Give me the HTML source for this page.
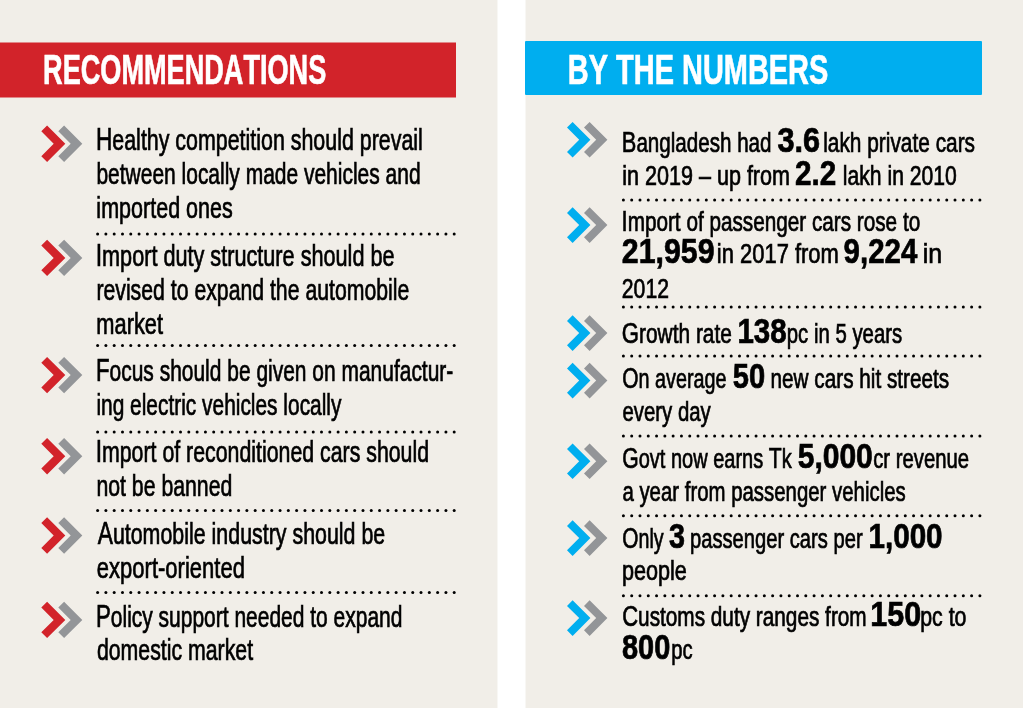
<!DOCTYPE html>
<html><head><meta charset="utf-8"><style>
html,body{margin:0;padding:0;background:#f1eee8;overflow:hidden;width:1023px;height:708px;}
svg{display:block;will-change:transform;}
text{font-family:"Liberation Sans",sans-serif;font-kerning:none;stroke:#000;stroke-width:0.7px;}
text[fill="#fff"]{stroke:#fff;}
</style></head><body>
<svg width="1023" height="708" viewBox="0 0 1023 708">
<rect x="0" y="0" width="1023" height="708" fill="#f1eee8"/>
<rect x="497.5" y="0" width="28" height="708" fill="#fff"/>
<rect x="0" y="42.5" width="456" height="55" fill="#d2232a"/>
<rect x="525" y="41" width="457" height="54" rx="1" fill="#00aeef"/>
<text x="43.09" y="83.60" font-size="43.00" textLength="283.17" lengthAdjust="spacingAndGlyphs" font-weight="bold" fill="#fff">RECOMMENDATIONS</text>
<text x="567.86" y="83.60" font-size="43.00" textLength="260.47" lengthAdjust="spacingAndGlyphs" font-weight="bold" fill="#fff">BY THE NUMBERS</text>
<polygon points="41.30,131.35 47.10,125.55 65.30,143.75 47.10,161.95 41.30,156.15 53.70,143.75" fill="#d2232a"/>
<polygon points="58.30,131.35 64.10,125.55 82.30,143.75 64.10,161.95 58.30,156.15 70.70,143.75" fill="#939598"/>
<polygon points="41.30,245.50 47.10,239.70 65.30,257.90 47.10,276.10 41.30,270.30 53.70,257.90" fill="#d2232a"/>
<polygon points="58.30,245.50 64.10,239.70 82.30,257.90 64.10,276.10 58.30,270.30 70.70,257.90" fill="#939598"/>
<polygon points="41.30,362.70 47.10,356.90 65.30,375.10 47.10,393.30 41.30,387.50 53.70,375.10" fill="#d2232a"/>
<polygon points="58.30,362.70 64.10,356.90 82.30,375.10 64.10,393.30 58.30,387.50 70.70,375.10" fill="#939598"/>
<polygon points="41.30,443.80 47.10,438.00 65.30,456.20 47.10,474.40 41.30,468.60 53.70,456.20" fill="#d2232a"/>
<polygon points="58.30,443.80 64.10,438.00 82.30,456.20 64.10,474.40 58.30,468.60 70.70,456.20" fill="#939598"/>
<polygon points="41.30,523.10 47.10,517.30 65.30,535.50 47.10,553.70 41.30,547.90 53.70,535.50" fill="#d2232a"/>
<polygon points="58.30,523.10 64.10,517.30 82.30,535.50 64.10,553.70 58.30,547.90 70.70,535.50" fill="#939598"/>
<polygon points="41.30,607.50 47.10,601.70 65.30,619.90 47.10,638.10 41.30,632.30 53.70,619.90" fill="#d2232a"/>
<polygon points="58.30,607.50 64.10,601.70 82.30,619.90 64.10,638.10 58.30,632.30 70.70,619.90" fill="#939598"/>
<polygon points="567.00,127.50 572.60,121.90 590.40,139.70 572.60,157.50 567.00,151.90 579.20,139.70" fill="#00aeef"/>
<polygon points="584.00,127.50 589.60,121.90 607.40,139.70 589.60,157.50 584.00,151.90 596.20,139.70" fill="#939598"/>
<polygon points="567.00,212.90 572.60,207.30 590.40,225.10 572.60,242.90 567.00,237.30 579.20,225.10" fill="#00aeef"/>
<polygon points="584.00,212.90 589.60,207.30 607.40,225.10 589.60,242.90 584.00,237.30 596.20,225.10" fill="#939598"/>
<polygon points="567.00,320.90 572.60,315.30 590.40,333.10 572.60,350.90 567.00,345.30 579.20,333.10" fill="#00aeef"/>
<polygon points="584.00,320.90 589.60,315.30 607.40,333.10 589.60,350.90 584.00,345.30 596.20,333.10" fill="#939598"/>
<polygon points="567.00,368.40 572.60,362.80 590.40,380.60 572.60,398.40 567.00,392.80 579.20,380.60" fill="#00aeef"/>
<polygon points="584.00,368.40 589.60,362.80 607.40,380.60 589.60,398.40 584.00,392.80 596.20,380.60" fill="#939598"/>
<polygon points="567.00,449.00 572.60,443.40 590.40,461.20 572.60,479.00 567.00,473.40 579.20,461.20" fill="#00aeef"/>
<polygon points="584.00,449.00 589.60,443.40 607.40,461.20 589.60,479.00 584.00,473.40 596.20,461.20" fill="#939598"/>
<polygon points="567.00,525.90 572.60,520.30 590.40,538.10 572.60,555.90 567.00,550.30 579.20,538.10" fill="#00aeef"/>
<polygon points="584.00,525.90 589.60,520.30 607.40,538.10 589.60,555.90 584.00,550.30 596.20,538.10" fill="#939598"/>
<polygon points="567.00,605.90 572.60,600.30 590.40,618.10 572.60,635.90 567.00,630.30 579.20,618.10" fill="#00aeef"/>
<polygon points="584.00,605.90 589.60,600.30 607.40,618.10 589.60,635.90 584.00,630.30 596.20,618.10" fill="#939598"/>
<circle cx="97.60" cy="234.10" r="1.50"/><circle cx="105.89" cy="234.10" r="1.50"/><circle cx="114.19" cy="234.10" r="1.50"/><circle cx="122.48" cy="234.10" r="1.50"/><circle cx="130.77" cy="234.10" r="1.50"/><circle cx="139.07" cy="234.10" r="1.50"/><circle cx="147.36" cy="234.10" r="1.50"/><circle cx="155.65" cy="234.10" r="1.50"/><circle cx="163.94" cy="234.10" r="1.50"/><circle cx="172.24" cy="234.10" r="1.50"/><circle cx="180.53" cy="234.10" r="1.50"/><circle cx="188.82" cy="234.10" r="1.50"/><circle cx="197.12" cy="234.10" r="1.50"/><circle cx="205.41" cy="234.10" r="1.50"/><circle cx="213.70" cy="234.10" r="1.50"/><circle cx="222.00" cy="234.10" r="1.50"/><circle cx="230.29" cy="234.10" r="1.50"/><circle cx="238.58" cy="234.10" r="1.50"/><circle cx="246.87" cy="234.10" r="1.50"/><circle cx="255.17" cy="234.10" r="1.50"/><circle cx="263.46" cy="234.10" r="1.50"/><circle cx="271.75" cy="234.10" r="1.50"/><circle cx="280.05" cy="234.10" r="1.50"/><circle cx="288.34" cy="234.10" r="1.50"/><circle cx="296.63" cy="234.10" r="1.50"/><circle cx="304.93" cy="234.10" r="1.50"/><circle cx="313.22" cy="234.10" r="1.50"/><circle cx="321.51" cy="234.10" r="1.50"/><circle cx="329.80" cy="234.10" r="1.50"/><circle cx="338.10" cy="234.10" r="1.50"/><circle cx="346.39" cy="234.10" r="1.50"/><circle cx="354.68" cy="234.10" r="1.50"/><circle cx="362.98" cy="234.10" r="1.50"/><circle cx="371.27" cy="234.10" r="1.50"/><circle cx="379.56" cy="234.10" r="1.50"/><circle cx="387.86" cy="234.10" r="1.50"/><circle cx="396.15" cy="234.10" r="1.50"/><circle cx="404.44" cy="234.10" r="1.50"/><circle cx="412.73" cy="234.10" r="1.50"/><circle cx="421.03" cy="234.10" r="1.50"/><circle cx="429.32" cy="234.10" r="1.50"/><circle cx="437.61" cy="234.10" r="1.50"/><circle cx="445.91" cy="234.10" r="1.50"/><circle cx="454.20" cy="234.10" r="1.50"/>
<circle cx="97.60" cy="345.50" r="1.50"/><circle cx="105.89" cy="345.50" r="1.50"/><circle cx="114.19" cy="345.50" r="1.50"/><circle cx="122.48" cy="345.50" r="1.50"/><circle cx="130.77" cy="345.50" r="1.50"/><circle cx="139.07" cy="345.50" r="1.50"/><circle cx="147.36" cy="345.50" r="1.50"/><circle cx="155.65" cy="345.50" r="1.50"/><circle cx="163.94" cy="345.50" r="1.50"/><circle cx="172.24" cy="345.50" r="1.50"/><circle cx="180.53" cy="345.50" r="1.50"/><circle cx="188.82" cy="345.50" r="1.50"/><circle cx="197.12" cy="345.50" r="1.50"/><circle cx="205.41" cy="345.50" r="1.50"/><circle cx="213.70" cy="345.50" r="1.50"/><circle cx="222.00" cy="345.50" r="1.50"/><circle cx="230.29" cy="345.50" r="1.50"/><circle cx="238.58" cy="345.50" r="1.50"/><circle cx="246.87" cy="345.50" r="1.50"/><circle cx="255.17" cy="345.50" r="1.50"/><circle cx="263.46" cy="345.50" r="1.50"/><circle cx="271.75" cy="345.50" r="1.50"/><circle cx="280.05" cy="345.50" r="1.50"/><circle cx="288.34" cy="345.50" r="1.50"/><circle cx="296.63" cy="345.50" r="1.50"/><circle cx="304.93" cy="345.50" r="1.50"/><circle cx="313.22" cy="345.50" r="1.50"/><circle cx="321.51" cy="345.50" r="1.50"/><circle cx="329.80" cy="345.50" r="1.50"/><circle cx="338.10" cy="345.50" r="1.50"/><circle cx="346.39" cy="345.50" r="1.50"/><circle cx="354.68" cy="345.50" r="1.50"/><circle cx="362.98" cy="345.50" r="1.50"/><circle cx="371.27" cy="345.50" r="1.50"/><circle cx="379.56" cy="345.50" r="1.50"/><circle cx="387.86" cy="345.50" r="1.50"/><circle cx="396.15" cy="345.50" r="1.50"/><circle cx="404.44" cy="345.50" r="1.50"/><circle cx="412.73" cy="345.50" r="1.50"/><circle cx="421.03" cy="345.50" r="1.50"/><circle cx="429.32" cy="345.50" r="1.50"/><circle cx="437.61" cy="345.50" r="1.50"/><circle cx="445.91" cy="345.50" r="1.50"/><circle cx="454.20" cy="345.50" r="1.50"/>
<circle cx="97.60" cy="432.00" r="1.50"/><circle cx="105.89" cy="432.00" r="1.50"/><circle cx="114.19" cy="432.00" r="1.50"/><circle cx="122.48" cy="432.00" r="1.50"/><circle cx="130.77" cy="432.00" r="1.50"/><circle cx="139.07" cy="432.00" r="1.50"/><circle cx="147.36" cy="432.00" r="1.50"/><circle cx="155.65" cy="432.00" r="1.50"/><circle cx="163.94" cy="432.00" r="1.50"/><circle cx="172.24" cy="432.00" r="1.50"/><circle cx="180.53" cy="432.00" r="1.50"/><circle cx="188.82" cy="432.00" r="1.50"/><circle cx="197.12" cy="432.00" r="1.50"/><circle cx="205.41" cy="432.00" r="1.50"/><circle cx="213.70" cy="432.00" r="1.50"/><circle cx="222.00" cy="432.00" r="1.50"/><circle cx="230.29" cy="432.00" r="1.50"/><circle cx="238.58" cy="432.00" r="1.50"/><circle cx="246.87" cy="432.00" r="1.50"/><circle cx="255.17" cy="432.00" r="1.50"/><circle cx="263.46" cy="432.00" r="1.50"/><circle cx="271.75" cy="432.00" r="1.50"/><circle cx="280.05" cy="432.00" r="1.50"/><circle cx="288.34" cy="432.00" r="1.50"/><circle cx="296.63" cy="432.00" r="1.50"/><circle cx="304.93" cy="432.00" r="1.50"/><circle cx="313.22" cy="432.00" r="1.50"/><circle cx="321.51" cy="432.00" r="1.50"/><circle cx="329.80" cy="432.00" r="1.50"/><circle cx="338.10" cy="432.00" r="1.50"/><circle cx="346.39" cy="432.00" r="1.50"/><circle cx="354.68" cy="432.00" r="1.50"/><circle cx="362.98" cy="432.00" r="1.50"/><circle cx="371.27" cy="432.00" r="1.50"/><circle cx="379.56" cy="432.00" r="1.50"/><circle cx="387.86" cy="432.00" r="1.50"/><circle cx="396.15" cy="432.00" r="1.50"/><circle cx="404.44" cy="432.00" r="1.50"/><circle cx="412.73" cy="432.00" r="1.50"/><circle cx="421.03" cy="432.00" r="1.50"/><circle cx="429.32" cy="432.00" r="1.50"/><circle cx="437.61" cy="432.00" r="1.50"/><circle cx="445.91" cy="432.00" r="1.50"/><circle cx="454.20" cy="432.00" r="1.50"/>
<circle cx="97.60" cy="510.50" r="1.50"/><circle cx="105.89" cy="510.50" r="1.50"/><circle cx="114.19" cy="510.50" r="1.50"/><circle cx="122.48" cy="510.50" r="1.50"/><circle cx="130.77" cy="510.50" r="1.50"/><circle cx="139.07" cy="510.50" r="1.50"/><circle cx="147.36" cy="510.50" r="1.50"/><circle cx="155.65" cy="510.50" r="1.50"/><circle cx="163.94" cy="510.50" r="1.50"/><circle cx="172.24" cy="510.50" r="1.50"/><circle cx="180.53" cy="510.50" r="1.50"/><circle cx="188.82" cy="510.50" r="1.50"/><circle cx="197.12" cy="510.50" r="1.50"/><circle cx="205.41" cy="510.50" r="1.50"/><circle cx="213.70" cy="510.50" r="1.50"/><circle cx="222.00" cy="510.50" r="1.50"/><circle cx="230.29" cy="510.50" r="1.50"/><circle cx="238.58" cy="510.50" r="1.50"/><circle cx="246.87" cy="510.50" r="1.50"/><circle cx="255.17" cy="510.50" r="1.50"/><circle cx="263.46" cy="510.50" r="1.50"/><circle cx="271.75" cy="510.50" r="1.50"/><circle cx="280.05" cy="510.50" r="1.50"/><circle cx="288.34" cy="510.50" r="1.50"/><circle cx="296.63" cy="510.50" r="1.50"/><circle cx="304.93" cy="510.50" r="1.50"/><circle cx="313.22" cy="510.50" r="1.50"/><circle cx="321.51" cy="510.50" r="1.50"/><circle cx="329.80" cy="510.50" r="1.50"/><circle cx="338.10" cy="510.50" r="1.50"/><circle cx="346.39" cy="510.50" r="1.50"/><circle cx="354.68" cy="510.50" r="1.50"/><circle cx="362.98" cy="510.50" r="1.50"/><circle cx="371.27" cy="510.50" r="1.50"/><circle cx="379.56" cy="510.50" r="1.50"/><circle cx="387.86" cy="510.50" r="1.50"/><circle cx="396.15" cy="510.50" r="1.50"/><circle cx="404.44" cy="510.50" r="1.50"/><circle cx="412.73" cy="510.50" r="1.50"/><circle cx="421.03" cy="510.50" r="1.50"/><circle cx="429.32" cy="510.50" r="1.50"/><circle cx="437.61" cy="510.50" r="1.50"/><circle cx="445.91" cy="510.50" r="1.50"/><circle cx="454.20" cy="510.50" r="1.50"/>
<circle cx="97.60" cy="592.50" r="1.50"/><circle cx="105.89" cy="592.50" r="1.50"/><circle cx="114.19" cy="592.50" r="1.50"/><circle cx="122.48" cy="592.50" r="1.50"/><circle cx="130.77" cy="592.50" r="1.50"/><circle cx="139.07" cy="592.50" r="1.50"/><circle cx="147.36" cy="592.50" r="1.50"/><circle cx="155.65" cy="592.50" r="1.50"/><circle cx="163.94" cy="592.50" r="1.50"/><circle cx="172.24" cy="592.50" r="1.50"/><circle cx="180.53" cy="592.50" r="1.50"/><circle cx="188.82" cy="592.50" r="1.50"/><circle cx="197.12" cy="592.50" r="1.50"/><circle cx="205.41" cy="592.50" r="1.50"/><circle cx="213.70" cy="592.50" r="1.50"/><circle cx="222.00" cy="592.50" r="1.50"/><circle cx="230.29" cy="592.50" r="1.50"/><circle cx="238.58" cy="592.50" r="1.50"/><circle cx="246.87" cy="592.50" r="1.50"/><circle cx="255.17" cy="592.50" r="1.50"/><circle cx="263.46" cy="592.50" r="1.50"/><circle cx="271.75" cy="592.50" r="1.50"/><circle cx="280.05" cy="592.50" r="1.50"/><circle cx="288.34" cy="592.50" r="1.50"/><circle cx="296.63" cy="592.50" r="1.50"/><circle cx="304.93" cy="592.50" r="1.50"/><circle cx="313.22" cy="592.50" r="1.50"/><circle cx="321.51" cy="592.50" r="1.50"/><circle cx="329.80" cy="592.50" r="1.50"/><circle cx="338.10" cy="592.50" r="1.50"/><circle cx="346.39" cy="592.50" r="1.50"/><circle cx="354.68" cy="592.50" r="1.50"/><circle cx="362.98" cy="592.50" r="1.50"/><circle cx="371.27" cy="592.50" r="1.50"/><circle cx="379.56" cy="592.50" r="1.50"/><circle cx="387.86" cy="592.50" r="1.50"/><circle cx="396.15" cy="592.50" r="1.50"/><circle cx="404.44" cy="592.50" r="1.50"/><circle cx="412.73" cy="592.50" r="1.50"/><circle cx="421.03" cy="592.50" r="1.50"/><circle cx="429.32" cy="592.50" r="1.50"/><circle cx="437.61" cy="592.50" r="1.50"/><circle cx="445.91" cy="592.50" r="1.50"/><circle cx="454.20" cy="592.50" r="1.50"/>
<circle cx="623.40" cy="200.10" r="1.50"/><circle cx="631.69" cy="200.10" r="1.50"/><circle cx="639.98" cy="200.10" r="1.50"/><circle cx="648.27" cy="200.10" r="1.50"/><circle cx="656.56" cy="200.10" r="1.50"/><circle cx="664.85" cy="200.10" r="1.50"/><circle cx="673.14" cy="200.10" r="1.50"/><circle cx="681.43" cy="200.10" r="1.50"/><circle cx="689.73" cy="200.10" r="1.50"/><circle cx="698.02" cy="200.10" r="1.50"/><circle cx="706.31" cy="200.10" r="1.50"/><circle cx="714.60" cy="200.10" r="1.50"/><circle cx="722.89" cy="200.10" r="1.50"/><circle cx="731.18" cy="200.10" r="1.50"/><circle cx="739.47" cy="200.10" r="1.50"/><circle cx="747.76" cy="200.10" r="1.50"/><circle cx="756.05" cy="200.10" r="1.50"/><circle cx="764.34" cy="200.10" r="1.50"/><circle cx="772.63" cy="200.10" r="1.50"/><circle cx="780.92" cy="200.10" r="1.50"/><circle cx="789.21" cy="200.10" r="1.50"/><circle cx="797.50" cy="200.10" r="1.50"/><circle cx="805.80" cy="200.10" r="1.50"/><circle cx="814.09" cy="200.10" r="1.50"/><circle cx="822.38" cy="200.10" r="1.50"/><circle cx="830.67" cy="200.10" r="1.50"/><circle cx="838.96" cy="200.10" r="1.50"/><circle cx="847.25" cy="200.10" r="1.50"/><circle cx="855.54" cy="200.10" r="1.50"/><circle cx="863.83" cy="200.10" r="1.50"/><circle cx="872.12" cy="200.10" r="1.50"/><circle cx="880.41" cy="200.10" r="1.50"/><circle cx="888.70" cy="200.10" r="1.50"/><circle cx="896.99" cy="200.10" r="1.50"/><circle cx="905.28" cy="200.10" r="1.50"/><circle cx="913.57" cy="200.10" r="1.50"/><circle cx="921.87" cy="200.10" r="1.50"/><circle cx="930.16" cy="200.10" r="1.50"/><circle cx="938.45" cy="200.10" r="1.50"/><circle cx="946.74" cy="200.10" r="1.50"/><circle cx="955.03" cy="200.10" r="1.50"/><circle cx="963.32" cy="200.10" r="1.50"/><circle cx="971.61" cy="200.10" r="1.50"/><circle cx="979.90" cy="200.10" r="1.50"/>
<circle cx="623.40" cy="307.00" r="1.50"/><circle cx="631.69" cy="307.00" r="1.50"/><circle cx="639.98" cy="307.00" r="1.50"/><circle cx="648.27" cy="307.00" r="1.50"/><circle cx="656.56" cy="307.00" r="1.50"/><circle cx="664.85" cy="307.00" r="1.50"/><circle cx="673.14" cy="307.00" r="1.50"/><circle cx="681.43" cy="307.00" r="1.50"/><circle cx="689.73" cy="307.00" r="1.50"/><circle cx="698.02" cy="307.00" r="1.50"/><circle cx="706.31" cy="307.00" r="1.50"/><circle cx="714.60" cy="307.00" r="1.50"/><circle cx="722.89" cy="307.00" r="1.50"/><circle cx="731.18" cy="307.00" r="1.50"/><circle cx="739.47" cy="307.00" r="1.50"/><circle cx="747.76" cy="307.00" r="1.50"/><circle cx="756.05" cy="307.00" r="1.50"/><circle cx="764.34" cy="307.00" r="1.50"/><circle cx="772.63" cy="307.00" r="1.50"/><circle cx="780.92" cy="307.00" r="1.50"/><circle cx="789.21" cy="307.00" r="1.50"/><circle cx="797.50" cy="307.00" r="1.50"/><circle cx="805.80" cy="307.00" r="1.50"/><circle cx="814.09" cy="307.00" r="1.50"/><circle cx="822.38" cy="307.00" r="1.50"/><circle cx="830.67" cy="307.00" r="1.50"/><circle cx="838.96" cy="307.00" r="1.50"/><circle cx="847.25" cy="307.00" r="1.50"/><circle cx="855.54" cy="307.00" r="1.50"/><circle cx="863.83" cy="307.00" r="1.50"/><circle cx="872.12" cy="307.00" r="1.50"/><circle cx="880.41" cy="307.00" r="1.50"/><circle cx="888.70" cy="307.00" r="1.50"/><circle cx="896.99" cy="307.00" r="1.50"/><circle cx="905.28" cy="307.00" r="1.50"/><circle cx="913.57" cy="307.00" r="1.50"/><circle cx="921.87" cy="307.00" r="1.50"/><circle cx="930.16" cy="307.00" r="1.50"/><circle cx="938.45" cy="307.00" r="1.50"/><circle cx="946.74" cy="307.00" r="1.50"/><circle cx="955.03" cy="307.00" r="1.50"/><circle cx="963.32" cy="307.00" r="1.50"/><circle cx="971.61" cy="307.00" r="1.50"/><circle cx="979.90" cy="307.00" r="1.50"/>
<circle cx="623.40" cy="355.90" r="1.50"/><circle cx="631.69" cy="355.90" r="1.50"/><circle cx="639.98" cy="355.90" r="1.50"/><circle cx="648.27" cy="355.90" r="1.50"/><circle cx="656.56" cy="355.90" r="1.50"/><circle cx="664.85" cy="355.90" r="1.50"/><circle cx="673.14" cy="355.90" r="1.50"/><circle cx="681.43" cy="355.90" r="1.50"/><circle cx="689.73" cy="355.90" r="1.50"/><circle cx="698.02" cy="355.90" r="1.50"/><circle cx="706.31" cy="355.90" r="1.50"/><circle cx="714.60" cy="355.90" r="1.50"/><circle cx="722.89" cy="355.90" r="1.50"/><circle cx="731.18" cy="355.90" r="1.50"/><circle cx="739.47" cy="355.90" r="1.50"/><circle cx="747.76" cy="355.90" r="1.50"/><circle cx="756.05" cy="355.90" r="1.50"/><circle cx="764.34" cy="355.90" r="1.50"/><circle cx="772.63" cy="355.90" r="1.50"/><circle cx="780.92" cy="355.90" r="1.50"/><circle cx="789.21" cy="355.90" r="1.50"/><circle cx="797.50" cy="355.90" r="1.50"/><circle cx="805.80" cy="355.90" r="1.50"/><circle cx="814.09" cy="355.90" r="1.50"/><circle cx="822.38" cy="355.90" r="1.50"/><circle cx="830.67" cy="355.90" r="1.50"/><circle cx="838.96" cy="355.90" r="1.50"/><circle cx="847.25" cy="355.90" r="1.50"/><circle cx="855.54" cy="355.90" r="1.50"/><circle cx="863.83" cy="355.90" r="1.50"/><circle cx="872.12" cy="355.90" r="1.50"/><circle cx="880.41" cy="355.90" r="1.50"/><circle cx="888.70" cy="355.90" r="1.50"/><circle cx="896.99" cy="355.90" r="1.50"/><circle cx="905.28" cy="355.90" r="1.50"/><circle cx="913.57" cy="355.90" r="1.50"/><circle cx="921.87" cy="355.90" r="1.50"/><circle cx="930.16" cy="355.90" r="1.50"/><circle cx="938.45" cy="355.90" r="1.50"/><circle cx="946.74" cy="355.90" r="1.50"/><circle cx="955.03" cy="355.90" r="1.50"/><circle cx="963.32" cy="355.90" r="1.50"/><circle cx="971.61" cy="355.90" r="1.50"/><circle cx="979.90" cy="355.90" r="1.50"/>
<circle cx="623.40" cy="435.90" r="1.50"/><circle cx="631.69" cy="435.90" r="1.50"/><circle cx="639.98" cy="435.90" r="1.50"/><circle cx="648.27" cy="435.90" r="1.50"/><circle cx="656.56" cy="435.90" r="1.50"/><circle cx="664.85" cy="435.90" r="1.50"/><circle cx="673.14" cy="435.90" r="1.50"/><circle cx="681.43" cy="435.90" r="1.50"/><circle cx="689.73" cy="435.90" r="1.50"/><circle cx="698.02" cy="435.90" r="1.50"/><circle cx="706.31" cy="435.90" r="1.50"/><circle cx="714.60" cy="435.90" r="1.50"/><circle cx="722.89" cy="435.90" r="1.50"/><circle cx="731.18" cy="435.90" r="1.50"/><circle cx="739.47" cy="435.90" r="1.50"/><circle cx="747.76" cy="435.90" r="1.50"/><circle cx="756.05" cy="435.90" r="1.50"/><circle cx="764.34" cy="435.90" r="1.50"/><circle cx="772.63" cy="435.90" r="1.50"/><circle cx="780.92" cy="435.90" r="1.50"/><circle cx="789.21" cy="435.90" r="1.50"/><circle cx="797.50" cy="435.90" r="1.50"/><circle cx="805.80" cy="435.90" r="1.50"/><circle cx="814.09" cy="435.90" r="1.50"/><circle cx="822.38" cy="435.90" r="1.50"/><circle cx="830.67" cy="435.90" r="1.50"/><circle cx="838.96" cy="435.90" r="1.50"/><circle cx="847.25" cy="435.90" r="1.50"/><circle cx="855.54" cy="435.90" r="1.50"/><circle cx="863.83" cy="435.90" r="1.50"/><circle cx="872.12" cy="435.90" r="1.50"/><circle cx="880.41" cy="435.90" r="1.50"/><circle cx="888.70" cy="435.90" r="1.50"/><circle cx="896.99" cy="435.90" r="1.50"/><circle cx="905.28" cy="435.90" r="1.50"/><circle cx="913.57" cy="435.90" r="1.50"/><circle cx="921.87" cy="435.90" r="1.50"/><circle cx="930.16" cy="435.90" r="1.50"/><circle cx="938.45" cy="435.90" r="1.50"/><circle cx="946.74" cy="435.90" r="1.50"/><circle cx="955.03" cy="435.90" r="1.50"/><circle cx="963.32" cy="435.90" r="1.50"/><circle cx="971.61" cy="435.90" r="1.50"/><circle cx="979.90" cy="435.90" r="1.50"/>
<circle cx="623.40" cy="515.70" r="1.50"/><circle cx="631.69" cy="515.70" r="1.50"/><circle cx="639.98" cy="515.70" r="1.50"/><circle cx="648.27" cy="515.70" r="1.50"/><circle cx="656.56" cy="515.70" r="1.50"/><circle cx="664.85" cy="515.70" r="1.50"/><circle cx="673.14" cy="515.70" r="1.50"/><circle cx="681.43" cy="515.70" r="1.50"/><circle cx="689.73" cy="515.70" r="1.50"/><circle cx="698.02" cy="515.70" r="1.50"/><circle cx="706.31" cy="515.70" r="1.50"/><circle cx="714.60" cy="515.70" r="1.50"/><circle cx="722.89" cy="515.70" r="1.50"/><circle cx="731.18" cy="515.70" r="1.50"/><circle cx="739.47" cy="515.70" r="1.50"/><circle cx="747.76" cy="515.70" r="1.50"/><circle cx="756.05" cy="515.70" r="1.50"/><circle cx="764.34" cy="515.70" r="1.50"/><circle cx="772.63" cy="515.70" r="1.50"/><circle cx="780.92" cy="515.70" r="1.50"/><circle cx="789.21" cy="515.70" r="1.50"/><circle cx="797.50" cy="515.70" r="1.50"/><circle cx="805.80" cy="515.70" r="1.50"/><circle cx="814.09" cy="515.70" r="1.50"/><circle cx="822.38" cy="515.70" r="1.50"/><circle cx="830.67" cy="515.70" r="1.50"/><circle cx="838.96" cy="515.70" r="1.50"/><circle cx="847.25" cy="515.70" r="1.50"/><circle cx="855.54" cy="515.70" r="1.50"/><circle cx="863.83" cy="515.70" r="1.50"/><circle cx="872.12" cy="515.70" r="1.50"/><circle cx="880.41" cy="515.70" r="1.50"/><circle cx="888.70" cy="515.70" r="1.50"/><circle cx="896.99" cy="515.70" r="1.50"/><circle cx="905.28" cy="515.70" r="1.50"/><circle cx="913.57" cy="515.70" r="1.50"/><circle cx="921.87" cy="515.70" r="1.50"/><circle cx="930.16" cy="515.70" r="1.50"/><circle cx="938.45" cy="515.70" r="1.50"/><circle cx="946.74" cy="515.70" r="1.50"/><circle cx="955.03" cy="515.70" r="1.50"/><circle cx="963.32" cy="515.70" r="1.50"/><circle cx="971.61" cy="515.70" r="1.50"/><circle cx="979.90" cy="515.70" r="1.50"/>
<circle cx="623.40" cy="595.70" r="1.50"/><circle cx="631.69" cy="595.70" r="1.50"/><circle cx="639.98" cy="595.70" r="1.50"/><circle cx="648.27" cy="595.70" r="1.50"/><circle cx="656.56" cy="595.70" r="1.50"/><circle cx="664.85" cy="595.70" r="1.50"/><circle cx="673.14" cy="595.70" r="1.50"/><circle cx="681.43" cy="595.70" r="1.50"/><circle cx="689.73" cy="595.70" r="1.50"/><circle cx="698.02" cy="595.70" r="1.50"/><circle cx="706.31" cy="595.70" r="1.50"/><circle cx="714.60" cy="595.70" r="1.50"/><circle cx="722.89" cy="595.70" r="1.50"/><circle cx="731.18" cy="595.70" r="1.50"/><circle cx="739.47" cy="595.70" r="1.50"/><circle cx="747.76" cy="595.70" r="1.50"/><circle cx="756.05" cy="595.70" r="1.50"/><circle cx="764.34" cy="595.70" r="1.50"/><circle cx="772.63" cy="595.70" r="1.50"/><circle cx="780.92" cy="595.70" r="1.50"/><circle cx="789.21" cy="595.70" r="1.50"/><circle cx="797.50" cy="595.70" r="1.50"/><circle cx="805.80" cy="595.70" r="1.50"/><circle cx="814.09" cy="595.70" r="1.50"/><circle cx="822.38" cy="595.70" r="1.50"/><circle cx="830.67" cy="595.70" r="1.50"/><circle cx="838.96" cy="595.70" r="1.50"/><circle cx="847.25" cy="595.70" r="1.50"/><circle cx="855.54" cy="595.70" r="1.50"/><circle cx="863.83" cy="595.70" r="1.50"/><circle cx="872.12" cy="595.70" r="1.50"/><circle cx="880.41" cy="595.70" r="1.50"/><circle cx="888.70" cy="595.70" r="1.50"/><circle cx="896.99" cy="595.70" r="1.50"/><circle cx="905.28" cy="595.70" r="1.50"/><circle cx="913.57" cy="595.70" r="1.50"/><circle cx="921.87" cy="595.70" r="1.50"/><circle cx="930.16" cy="595.70" r="1.50"/><circle cx="938.45" cy="595.70" r="1.50"/><circle cx="946.74" cy="595.70" r="1.50"/><circle cx="955.03" cy="595.70" r="1.50"/><circle cx="963.32" cy="595.70" r="1.50"/><circle cx="971.61" cy="595.70" r="1.50"/><circle cx="979.90" cy="595.70" r="1.50"/>
<text x="95.94" y="149.90" font-size="29.00" textLength="326.89" lengthAdjust="spacingAndGlyphs"><tspan font-size="30.74">H</tspan>ealthy competition should prevail</text>
<text x="96.45" y="183.50" font-size="29.00" textLength="324.10" lengthAdjust="spacingAndGlyphs">between locally made vehicles and</text>
<text x="96.36" y="217.50" font-size="29.00" textLength="136.42" lengthAdjust="spacingAndGlyphs">imported ones</text>
<text x="95.68" y="266.00" font-size="29.00" textLength="298.88" lengthAdjust="spacingAndGlyphs"><tspan font-size="30.74">I</tspan>mport duty structure should be</text>
<text x="96.39" y="299.80" font-size="29.00" textLength="312.95" lengthAdjust="spacingAndGlyphs">revised to expand the automobile</text>
<text x="96.35" y="333.50" font-size="29.00" textLength="66.71" lengthAdjust="spacingAndGlyphs">market</text>
<text x="95.98" y="380.70" font-size="29.00" textLength="357.35" lengthAdjust="spacingAndGlyphs"><tspan font-size="30.74">F</tspan>ocus should be given on manufactur-</text>
<text x="96.40" y="414.60" font-size="29.00" textLength="245.04" lengthAdjust="spacingAndGlyphs">ing electric vehicles locally</text>
<text x="95.71" y="462.20" font-size="29.00" textLength="333.36" lengthAdjust="spacingAndGlyphs"><tspan font-size="30.74">I</tspan>mport of reconditioned cars should</text>
<text x="96.39" y="496.00" font-size="29.00" textLength="135.98" lengthAdjust="spacingAndGlyphs">not be banned</text>
<text x="97.76" y="543.80" font-size="29.00" textLength="287.49" lengthAdjust="spacingAndGlyphs"><tspan font-size="30.74">A</tspan>utomobile industry should be</text>
<text x="96.86" y="577.70" font-size="29.00" textLength="148.05" lengthAdjust="spacingAndGlyphs">export-oriented</text>
<text x="95.98" y="627.30" font-size="29.00" textLength="306.48" lengthAdjust="spacingAndGlyphs"><tspan font-size="30.74">P</tspan>olicy support needed to expand</text>
<text x="96.91" y="660.40" font-size="29.00" textLength="156.15" lengthAdjust="spacingAndGlyphs">domestic market</text>
<text x="621.81" y="151.60" font-size="27.00" textLength="149.72" lengthAdjust="spacingAndGlyphs"><tspan font-size="28.62">B</tspan>angladesh had</text>
<text x="777.49" y="151.60" font-size="35.50" textLength="42.72" lengthAdjust="spacingAndGlyphs" font-weight="bold">3.6</text>
<text x="823.19" y="151.60" font-size="27.00" textLength="151.86" lengthAdjust="spacingAndGlyphs">lakh private cars</text>
<text x="622.16" y="184.80" font-size="27.00" textLength="167.86" lengthAdjust="spacingAndGlyphs">in 2019 – up from</text>
<text x="794.97" y="184.80" font-size="35.50" textLength="41.21" lengthAdjust="spacingAndGlyphs" font-weight="bold">2.2</text>
<text x="842.78" y="184.80" font-size="27.00" textLength="114.05" lengthAdjust="spacingAndGlyphs">lakh in 2010</text>
<text x="621.57" y="230.60" font-size="27.00" textLength="298.60" lengthAdjust="spacingAndGlyphs"><tspan font-size="28.62">I</tspan>mport of passenger cars rose to</text>
<text x="621.85" y="263.20" font-size="35.50" textLength="92.67" lengthAdjust="spacingAndGlyphs" font-weight="bold">21,959</text>
<text x="716.83" y="263.20" font-size="27.00" textLength="122.02" lengthAdjust="spacingAndGlyphs">in 2017 from</text>
<text x="843.58" y="263.20" font-size="35.50" textLength="73.68" lengthAdjust="spacingAndGlyphs" font-weight="bold">9,224</text>
<text x="922.63" y="263.20" font-size="27.00" textLength="19.38" lengthAdjust="spacingAndGlyphs">in</text>
<text x="621.83" y="297.50" font-size="27.00" textLength="47.13" lengthAdjust="spacingAndGlyphs">2012</text>
<text x="621.79" y="343.30" font-size="27.00" textLength="110.14" lengthAdjust="spacingAndGlyphs"><tspan font-size="28.62">G</tspan>rowth rate</text>
<text x="737.44" y="343.30" font-size="35.50" textLength="49.27" lengthAdjust="spacingAndGlyphs" font-weight="bold">138</text>
<text x="786.79" y="343.30" font-size="27.00" textLength="115.45" lengthAdjust="spacingAndGlyphs">pc in 5 years</text>
<text x="622.31" y="388.40" font-size="27.00" textLength="104.17" lengthAdjust="spacingAndGlyphs"><tspan font-size="28.62">O</tspan>n average</text>
<text x="732.70" y="388.40" font-size="35.50" textLength="32.39" lengthAdjust="spacingAndGlyphs" font-weight="bold">50</text>
<text x="770.52" y="388.40" font-size="27.00" textLength="178.73" lengthAdjust="spacingAndGlyphs">new cars hit streets</text>
<text x="622.43" y="420.80" font-size="27.00" textLength="88.31" lengthAdjust="spacingAndGlyphs">every day</text>
<text x="622.23" y="468.40" font-size="27.00" textLength="169.44" lengthAdjust="spacingAndGlyphs"><tspan font-size="28.62">G</tspan>ovt now earns <tspan font-size="28.62">T</tspan>k</text>
<text x="797.68" y="468.40" font-size="35.50" textLength="75.16" lengthAdjust="spacingAndGlyphs" font-weight="bold">5,000</text>
<text x="873.14" y="468.40" font-size="27.00" textLength="95.97" lengthAdjust="spacingAndGlyphs">cr revenue</text>
<text x="622.43" y="501.40" font-size="27.00" textLength="283.30" lengthAdjust="spacingAndGlyphs">a year from passenger vehicles</text>
<text x="622.31" y="547.70" font-size="27.00" textLength="41.33" lengthAdjust="spacingAndGlyphs"><tspan font-size="28.62">O</tspan>nly</text>
<text x="669.04" y="547.70" font-size="35.50" textLength="16.00" lengthAdjust="spacingAndGlyphs" font-weight="bold">3</text>
<text x="690.00" y="547.70" font-size="27.00" textLength="172.63" lengthAdjust="spacingAndGlyphs">passenger cars per</text>
<text x="868.43" y="547.70" font-size="35.50" textLength="74.18" lengthAdjust="spacingAndGlyphs" font-weight="bold">1,000</text>
<text x="621.91" y="580.40" font-size="27.00" textLength="64.96" lengthAdjust="spacingAndGlyphs">people</text>
<text x="622.18" y="625.90" font-size="27.00" textLength="244.49" lengthAdjust="spacingAndGlyphs"><tspan font-size="28.62">C</tspan>ustoms duty ranges from</text>
<text x="870.28" y="625.90" font-size="35.50" textLength="50.87" lengthAdjust="spacingAndGlyphs" font-weight="bold">150</text>
<text x="920.22" y="625.90" font-size="27.00" textLength="46.27" lengthAdjust="spacingAndGlyphs">pc to</text>
<text x="621.98" y="659.20" font-size="35.50" textLength="48.31" lengthAdjust="spacingAndGlyphs" font-weight="bold">800</text>
<text x="671.29" y="659.20" font-size="27.00" textLength="21.44" lengthAdjust="spacingAndGlyphs">pc</text>
</svg>
</body></html>
